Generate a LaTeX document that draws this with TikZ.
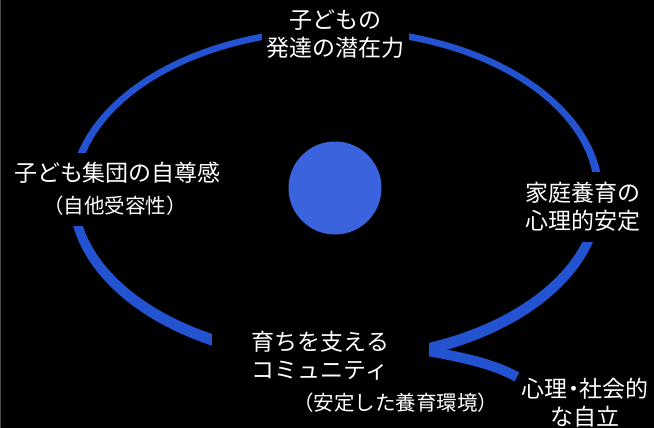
\documentclass[tikz,border=0pt]{standalone}
\usepackage{fontspec}
\newfontfamily\jp{Noto Sans CJK JP}
\definecolor{ringblue}{HTML}{2453D1}
\definecolor{discblue}{HTML}{3A63DD}
\begin{document}
\begin{tikzpicture}[x=1pt,y=-1pt,
  lbl/.style={text=white, font=\jp\fontsize{23}{28}\selectfont, align=center, inner sep=0pt},
  sublbl/.style={text=white, font=\jp\fontsize{20.5}{25}\selectfont, inner sep=0pt},
  mask/.style={fill=black},
  band/.style={ringblue, line width=10pt}]
\fill[black] (0,0) rectangle (654,428);
\useasboundingbox (0,0) rectangle (654,428);
\draw[gray!60!black, line width=1pt] (0.5,0) -- (0.5,428);
% ring
\fill[ringblue, even odd rule] (336,196) ellipse [x radius=267, y radius=169]
  (336,193.5) ellipse [x radius=258.5, y radius=160];
% tail
\coordinate (tailstart) at (420,349.5);
\coordinate (tailend) at (517,377);
\draw[band] (tailstart) .. controls (460,357) and (492,363) .. (tailend);
% central disc
\node[circle, fill=discblue, minimum size=93pt, inner sep=0pt] (core) at (335,188) {};
% labels (black fill cuts the gaps in the ring)
\node[lbl, mask, minimum width=147pt] (potential) at (335.5,34) {子どもの\\発達の潜在力};
\node[lbl, mask, minimum height=40pt] (esteem) at (117.5,172.5) {子ども集団の自尊感};
\node[sublbl, mask, minimum height=40pt] (esteemsub) at (115,206) {（自他受容性）};
\node[lbl, mask, minimum height=70pt] (family) at (582.5,206.5) {家庭養育の\\心理的安定};
\node[lbl, mask, align=left, minimum width=217pt, minimum height=60pt] (community) at (320.5,356) {育ちを支える\\コミュニティ};
\node[sublbl] (communitysub) at (395.5,402.5) {（安定した養育環境）};
\node[lbl] (autonomy) at (585,402.5) {心理\kern-5.5pt・\kern-5.5pt社会的\\な自立};
\end{tikzpicture}
\end{document}
